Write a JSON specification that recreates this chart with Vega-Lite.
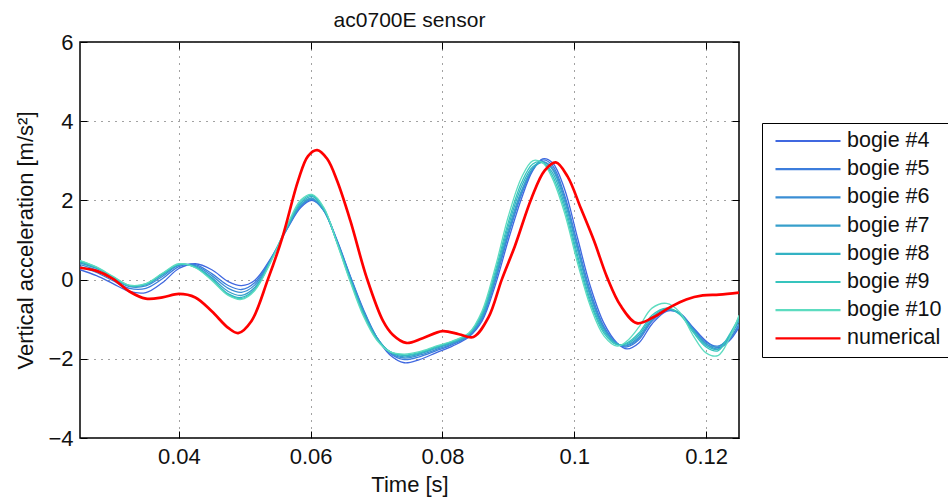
{
  "$schema": "https://vega.github.io/schema/vega-lite/v6.json",
  "width": 659,
  "height": 396,
  "autosize": {"type": "none"},
  "padding": {"left": 80, "top": 42, "right": 209, "bottom": 60},
  "background": "white",
  "title": {"text": "ac0700E sensor", "fontSize": 21, "fontWeight": "normal", "font": "Liberation Sans", "color": "#111", "anchor": "middle", "offset": -17, "baseline": "alphabetic"},
  "config": {
    "view": {"stroke": "black", "strokeWidth": 1.5},
    "axis": {
      "labelFont": "Liberation Sans", "labelFontSize": 22, "labelColor": "#111",
      "titleFont": "Liberation Sans", "titleFontSize": 22, "titleFontWeight": "normal", "titleColor": "#111",
      "tickColor": "black", "tickWidth": 1, "domain": false,
      "gridColor": "#444", "gridDash": [1, 6], "gridWidth": 1
    }
  },
  "datasets": {
    "bogies": [
      {"t": 0.025, "bogie #4": 0.25, "bogie #5": 0.33, "bogie #6": 0.38, "bogie #7": 0.42, "bogie #8": 0.45, "bogie #9": 0.47, "bogie #10": 0.48},
      {"t": 0.0275, "bogie #4": 0.10, "bogie #5": 0.18, "bogie #6": 0.24, "bogie #7": 0.28, "bogie #8": 0.30, "bogie #9": 0.31, "bogie #10": 0.32},
      {"t": 0.030, "bogie #4": -0.10, "bogie #5": -0.03, "bogie #6": 0.02, "bogie #7": 0.05, "bogie #8": 0.06, "bogie #9": 0.07, "bogie #10": 0.08},
      {"t": 0.0325, "bogie #4": -0.30, "bogie #5": -0.22, "bogie #6": -0.18, "bogie #7": -0.16, "bogie #8": -0.15, "bogie #9": -0.15, "bogie #10": -0.14},
      {"t": 0.035, "bogie #4": -0.33, "bogie #5": -0.22, "bogie #6": -0.16, "bogie #7": -0.13, "bogie #8": -0.12, "bogie #9": -0.11, "bogie #10": -0.10},
      {"t": 0.0375, "bogie #4": -0.08, "bogie #5": 0.02, "bogie #6": 0.08, "bogie #7": 0.12, "bogie #8": 0.14, "bogie #9": 0.15, "bogie #10": 0.16},
      {"t": 0.040, "bogie #4": 0.28, "bogie #5": 0.33, "bogie #6": 0.36, "bogie #7": 0.37, "bogie #8": 0.38, "bogie #9": 0.39, "bogie #10": 0.40},
      {"t": 0.0425, "bogie #4": 0.40, "bogie #5": 0.38, "bogie #6": 0.35, "bogie #7": 0.33, "bogie #8": 0.32, "bogie #9": 0.31, "bogie #10": 0.30},
      {"t": 0.045, "bogie #4": 0.25, "bogie #5": 0.15, "bogie #6": 0.10, "bogie #7": 0.05, "bogie #8": 0.02, "bogie #9": 0.00, "bogie #10": -0.02},
      {"t": 0.0475, "bogie #4": -0.05, "bogie #5": -0.15, "bogie #6": -0.22, "bogie #7": -0.30, "bogie #8": -0.36, "bogie #9": -0.38, "bogie #10": -0.40},
      {"t": 0.0495, "bogie #4": -0.15, "bogie #5": -0.25, "bogie #6": -0.32, "bogie #7": -0.40, "bogie #8": -0.45, "bogie #9": -0.48, "bogie #10": -0.50},
      {"t": 0.0515, "bogie #4": -0.02, "bogie #5": -0.08, "bogie #6": -0.14, "bogie #7": -0.20, "bogie #8": -0.24, "bogie #9": -0.26, "bogie #10": -0.28},
      {"t": 0.054, "bogie #4": 0.55, "bogie #5": 0.53, "bogie #6": 0.52, "bogie #7": 0.50, "bogie #8": 0.50, "bogie #9": 0.48, "bogie #10": 0.46},
      {"t": 0.0565, "bogie #4": 1.30, "bogie #5": 1.31, "bogie #6": 1.32, "bogie #7": 1.33, "bogie #8": 1.35, "bogie #9": 1.37, "bogie #10": 1.40},
      {"t": 0.0585, "bogie #4": 1.82, "bogie #5": 1.85, "bogie #6": 1.87, "bogie #7": 1.89, "bogie #8": 1.93, "bogie #9": 1.97, "bogie #10": 2.01},
      {"t": 0.0602, "bogie #4": 2.00, "bogie #5": 2.02, "bogie #6": 2.04, "bogie #7": 2.06, "bogie #8": 2.10, "bogie #9": 2.13, "bogie #10": 2.15},
      {"t": 0.062, "bogie #4": 1.75, "bogie #5": 1.74, "bogie #6": 1.74, "bogie #7": 1.75, "bogie #8": 1.78, "bogie #9": 1.80, "bogie #10": 1.82},
      {"t": 0.064, "bogie #4": 1.00, "bogie #5": 0.98, "bogie #6": 0.96, "bogie #7": 0.95, "bogie #8": 0.95, "bogie #9": 0.93, "bogie #10": 0.92},
      {"t": 0.066, "bogie #4": 0.10, "bogie #5": 0.08, "bogie #6": 0.06, "bogie #7": 0.05, "bogie #8": 0.02, "bogie #9": -0.02, "bogie #10": -0.05},
      {"t": 0.068, "bogie #4": -0.75, "bogie #5": -0.78, "bogie #6": -0.79, "bogie #7": -0.80, "bogie #8": -0.85, "bogie #9": -0.88, "bogie #10": -0.92},
      {"t": 0.070, "bogie #4": -1.45, "bogie #5": -1.45, "bogie #6": -1.45, "bogie #7": -1.45, "bogie #8": -1.48, "bogie #9": -1.50, "bogie #10": -1.52},
      {"t": 0.072, "bogie #4": -1.90, "bogie #5": -1.86, "bogie #6": -1.84, "bogie #7": -1.82, "bogie #8": -1.82, "bogie #9": -1.82, "bogie #10": -1.82},
      {"t": 0.0742, "bogie #4": -2.10, "bogie #5": -2.02, "bogie #6": -1.98, "bogie #7": -1.95, "bogie #8": -1.92, "bogie #9": -1.90, "bogie #10": -1.88},
      {"t": 0.0765, "bogie #4": -2.02, "bogie #5": -1.95, "bogie #6": -1.91, "bogie #7": -1.88, "bogie #8": -1.86, "bogie #9": -1.84, "bogie #10": -1.82},
      {"t": 0.079, "bogie #4": -1.85, "bogie #5": -1.80, "bogie #6": -1.77, "bogie #7": -1.74, "bogie #8": -1.72, "bogie #9": -1.70, "bogie #10": -1.68},
      {"t": 0.0815, "bogie #4": -1.68, "bogie #5": -1.64, "bogie #6": -1.62, "bogie #7": -1.60, "bogie #8": -1.58, "bogie #9": -1.56, "bogie #10": -1.55},
      {"t": 0.084, "bogie #4": -1.45, "bogie #5": -1.43, "bogie #6": -1.41, "bogie #7": -1.40, "bogie #8": -1.38, "bogie #9": -1.36, "bogie #10": -1.35},
      {"t": 0.086, "bogie #4": -1.05, "bogie #5": -1.00, "bogie #6": -0.97, "bogie #7": -0.95, "bogie #8": -0.90, "bogie #9": -0.85, "bogie #10": -0.80},
      {"t": 0.088, "bogie #4": -0.15, "bogie #5": -0.05, "bogie #6": 0.00, "bogie #7": 0.05, "bogie #8": 0.12, "bogie #9": 0.20, "bogie #10": 0.30},
      {"t": 0.090, "bogie #4": 1.00, "bogie #5": 1.12, "bogie #6": 1.18, "bogie #7": 1.25, "bogie #8": 1.35, "bogie #9": 1.45, "bogie #10": 1.60},
      {"t": 0.092, "bogie #4": 2.05, "bogie #5": 2.15, "bogie #6": 2.20, "bogie #7": 2.25, "bogie #8": 2.35, "bogie #9": 2.45, "bogie #10": 2.58},
      {"t": 0.0937, "bogie #4": 2.75, "bogie #5": 2.78, "bogie #6": 2.80, "bogie #7": 2.80, "bogie #8": 2.85, "bogie #9": 2.92, "bogie #10": 3.00},
      {"t": 0.0952, "bogie #4": 3.05, "bogie #5": 3.02, "bogie #6": 2.98, "bogie #7": 2.97, "bogie #8": 2.95, "bogie #9": 2.96, "bogie #10": 2.95},
      {"t": 0.0967, "bogie #4": 2.95, "bogie #5": 2.88, "bogie #6": 2.82, "bogie #7": 2.78, "bogie #8": 2.70, "bogie #9": 2.62, "bogie #10": 2.55},
      {"t": 0.0985, "bogie #4": 2.30, "bogie #5": 2.15, "bogie #6": 2.08, "bogie #7": 2.00, "bogie #8": 1.90, "bogie #9": 1.80, "bogie #10": 1.70},
      {"t": 0.1005, "bogie #4": 1.05, "bogie #5": 0.90, "bogie #6": 0.82, "bogie #7": 0.75, "bogie #8": 0.62, "bogie #9": 0.52, "bogie #10": 0.42},
      {"t": 0.1025, "bogie #4": -0.20, "bogie #5": -0.32, "bogie #6": -0.40, "bogie #7": -0.45, "bogie #8": -0.55, "bogie #9": -0.62, "bogie #10": -0.70},
      {"t": 0.1045, "bogie #4": -1.10, "bogie #5": -1.18, "bogie #6": -1.22, "bogie #7": -1.25, "bogie #8": -1.30, "bogie #9": -1.35, "bogie #10": -1.42},
      {"t": 0.1065, "bogie #4": -1.60, "bogie #5": -1.62, "bogie #6": -1.62, "bogie #7": -1.62, "bogie #8": -1.63, "bogie #9": -1.65, "bogie #10": -1.68},
      {"t": 0.108, "bogie #4": -1.75, "bogie #5": -1.70, "bogie #6": -1.67, "bogie #7": -1.65, "bogie #8": -1.62, "bogie #9": -1.60, "bogie #10": -1.55},
      {"t": 0.1098, "bogie #4": -1.60, "bogie #5": -1.52, "bogie #6": -1.48, "bogie #7": -1.45, "bogie #8": -1.40, "bogie #9": -1.35, "bogie #10": -1.20},
      {"t": 0.1118, "bogie #4": -1.12, "bogie #5": -1.05, "bogie #6": -1.02, "bogie #7": -1.00, "bogie #8": -0.95, "bogie #9": -0.90, "bogie #10": -0.72},
      {"t": 0.114, "bogie #4": -0.80, "bogie #5": -0.78, "bogie #6": -0.76, "bogie #7": -0.75, "bogie #8": -0.73, "bogie #9": -0.72, "bogie #10": -0.60},
      {"t": 0.116, "bogie #4": -0.85, "bogie #5": -0.85, "bogie #6": -0.86, "bogie #7": -0.85, "bogie #8": -0.86, "bogie #9": -0.88, "bogie #10": -0.82},
      {"t": 0.118, "bogie #4": -1.20, "bogie #5": -1.22, "bogie #6": -1.25, "bogie #7": -1.25, "bogie #8": -1.28, "bogie #9": -1.32, "bogie #10": -1.40},
      {"t": 0.120, "bogie #4": -1.55, "bogie #5": -1.58, "bogie #6": -1.62, "bogie #7": -1.62, "bogie #8": -1.66, "bogie #9": -1.70, "bogie #10": -1.85},
      {"t": 0.1218, "bogie #4": -1.72, "bogie #5": -1.68, "bogie #6": -1.75, "bogie #7": -1.70, "bogie #8": -1.76, "bogie #9": -1.80, "bogie #10": -1.92},
      {"t": 0.1235, "bogie #4": -1.55, "bogie #5": -1.50, "bogie #6": -1.52, "bogie #7": -1.45, "bogie #8": -1.45, "bogie #9": -1.40, "bogie #10": -1.50},
      {"t": 0.125, "bogie #4": -1.20, "bogie #5": -1.12, "bogie #6": -1.15, "bogie #7": -1.05, "bogie #8": -1.00, "bogie #9": -0.95, "bogie #10": -0.90}
    ],
    "numerical": [
      {"series": "numerical", "t": 0.025, "v": 0.30},
      {"series": "numerical", "t": 0.0275, "v": 0.22},
      {"series": "numerical", "t": 0.030, "v": 0.02},
      {"series": "numerical", "t": 0.0325, "v": -0.30},
      {"series": "numerical", "t": 0.035, "v": -0.48},
      {"series": "numerical", "t": 0.0375, "v": -0.45},
      {"series": "numerical", "t": 0.040, "v": -0.36},
      {"series": "numerical", "t": 0.0425, "v": -0.45},
      {"series": "numerical", "t": 0.045, "v": -0.80},
      {"series": "numerical", "t": 0.0475, "v": -1.22},
      {"series": "numerical", "t": 0.049, "v": -1.35},
      {"series": "numerical", "t": 0.051, "v": -1.05},
      {"series": "numerical", "t": 0.0535, "v": 0.0},
      {"series": "numerical", "t": 0.0557, "v": 1.06},
      {"series": "numerical", "t": 0.0581, "v": 2.50},
      {"series": "numerical", "t": 0.0596, "v": 3.12},
      {"series": "numerical", "t": 0.061, "v": 3.27},
      {"series": "numerical", "t": 0.0625, "v": 3.05},
      {"series": "numerical", "t": 0.064, "v": 2.50},
      {"series": "numerical", "t": 0.066, "v": 1.50},
      {"series": "numerical", "t": 0.0685, "v": 0.05},
      {"series": "numerical", "t": 0.071, "v": -1.05},
      {"series": "numerical", "t": 0.0725, "v": -1.40},
      {"series": "numerical", "t": 0.0745, "v": -1.60},
      {"series": "numerical", "t": 0.077, "v": -1.48},
      {"series": "numerical", "t": 0.080, "v": -1.30},
      {"series": "numerical", "t": 0.0825, "v": -1.38},
      {"series": "numerical", "t": 0.0847, "v": -1.45},
      {"series": "numerical", "t": 0.087, "v": -0.95},
      {"series": "numerical", "t": 0.089, "v": 0.0},
      {"series": "numerical", "t": 0.091, "v": 0.85},
      {"series": "numerical", "t": 0.0935, "v": 2.05},
      {"series": "numerical", "t": 0.0955, "v": 2.75},
      {"series": "numerical", "t": 0.0972, "v": 2.96},
      {"series": "numerical", "t": 0.099, "v": 2.60},
      {"series": "numerical", "t": 0.101, "v": 1.80},
      {"series": "numerical", "t": 0.103, "v": 0.98},
      {"series": "numerical", "t": 0.105, "v": 0.05},
      {"series": "numerical", "t": 0.107, "v": -0.65},
      {"series": "numerical", "t": 0.1095, "v": -1.10},
      {"series": "numerical", "t": 0.112, "v": -0.95},
      {"series": "numerical", "t": 0.1145, "v": -0.70},
      {"series": "numerical", "t": 0.117, "v": -0.50},
      {"series": "numerical", "t": 0.1195, "v": -0.40},
      {"series": "numerical", "t": 0.122, "v": -0.38},
      {"series": "numerical", "t": 0.125, "v": -0.33}
    ]
  },
  "layer": [
    {
      "data": {"name": "bogies"},
      "transform": [
        {"fold": ["bogie #4", "bogie #5", "bogie #6", "bogie #7", "bogie #8", "bogie #9", "bogie #10"], "as": ["series", "v"]}
      ],
      "mark": {"type": "line", "interpolate": "catmull-rom", "strokeWidth": 1.3, "clip": true},
      "encoding": {
        "x": {
          "field": "t", "type": "quantitative",
          "scale": {"domain": [0.025, 0.125], "nice": false, "zero": false},
          "axis": {"orient": "bottom", "values": [0.04, 0.06, 0.08, 0.1, 0.12], "format": "~g", "grid": true, "tickSize": -7, "labelPadding": 15, "title": "Time [s]", "titlePadding": 7}
        },
        "y": {
          "field": "v", "type": "quantitative",
          "scale": {"domain": [-4, 6], "nice": false, "zero": false},
          "axis": {"orient": "left", "values": [-4, -2, 0, 2, 4, 6], "format": "~g", "grid": true, "tickSize": -7, "labelPadding": 14, "title": "Vertical acceleration [m/s²]", "titlePadding": 10}
        },
        "color": {
          "field": "series", "type": "nominal",
          "scale": {
            "domain": ["bogie #4", "bogie #5", "bogie #6", "bogie #7", "bogie #8", "bogie #9", "bogie #10", "numerical"],
            "range": ["#4068e0", "#3c7ddc", "#3a8ed4", "#379fcb", "#33b2c4", "#36c4bd", "#5ddcc0", "#ff0000"]
          },
          "legend": {
            "title": null, "orient": "none", "legendX": 682, "legendY": 81,
            "strokeColor": "black", "fillColor": "white", "padding": 7,
            "labelFont": "Liberation Sans", "labelFontSize": 21.5, "labelColor": "#111",
            "symbolType": "stroke", "symbolSize": 4225, "symbolStrokeWidth": 2.2,
            "clipHeight": 22, "rowPadding": 6.2, "labelOffset": 5, "symbolOffset": 5
          }
        }
      }
    },
    {
      "data": {"name": "numerical"},
      "mark": {"type": "line", "interpolate": "catmull-rom", "strokeWidth": 2.7, "clip": true},
      "encoding": {
        "x": {"field": "t", "type": "quantitative", "axis": {"orient": "top", "labels": false, "grid": false, "tickSize": -7, "title": null, "values": [0.04, 0.06, 0.08, 0.1, 0.12]}},
        "y": {"field": "v", "type": "quantitative", "axis": {"orient": "right", "labels": false, "grid": false, "tickSize": -7, "title": null, "values": [-4, -2, 0, 2, 4, 6]}},
        "color": {"field": "series", "type": "nominal"}
      }
    }
  ],
  "resolve": {"axis": {"x": "independent", "y": "independent"}}
}
